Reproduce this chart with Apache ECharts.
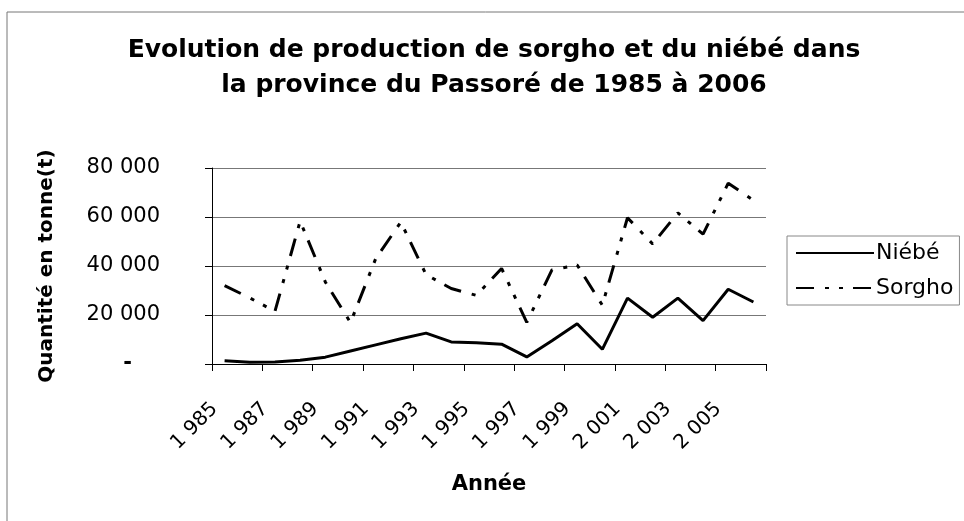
<!DOCTYPE html>
<html>
<head>
<meta charset="utf-8">
<title>Sorgho et niébé - Passoré</title>
<script src="https://cdn.jsdelivr.net/npm/echarts@6/dist/echarts.min.js"></script>
<style>
  html, body { margin: 0; padding: 0; background: #fff; }
  #chart { width: 964px; height: 521px; }
</style>
</head>
<body>
<div id="chart"></div>
<script>
// années (libellés avec séparateur de milliers comme dans Excel)
const years = ['1 985', '1 986', '1 987', '1 988', '1 989', '1 990', '1 991', '1 992', '1 993', '1 994', '1 995',
  '1 996', '1 997', '1 998', '1 999', '2 000', '2 001', '2 002', '2 003', '2 004', '2 005', '2 006']
// production en tonnes
const niebe = [1300, 700, 800, 1500, 2800, 5300, 7800, 10300, 12600, 9000, 8700,
  8100, 2900, 9500, 16400, 6000, 26900, 19100, 26900, 17700, 30500, 25300]
const sorgho = [32000, 27000, 21500, 58300, 33500, 16900, 43000, 57900, 36500, 30800, 28000,
  39000, 17000, 38400, 40400, 24000, 59700, 49000, 61700, 53000, 73800, 66800]
const yTicks = [0, 20000, 40000, 60000, 80000]

const FONT = 'DejaVu Sans'

function fmt (v) {
  if (v === 0) return '{z|-}'
  return String(v).replace(/\B(?=(\d{3})+(?!\d))/g, ' ')
}

let myChart = echarts.init(document.getElementById('chart'), null, { renderer: 'canvas' })
myChart.setOption({
  backgroundColor: '#fff',
  animation: false,
  textStyle: { fontFamily: FONT, color: '#000' },
  title: {
    text: 'Evolution de production de sorgho et du niébé dans\nla province du Passoré de 1985 à 2006',
    left: 489,
    top: 28,
    textAlign: 'center',
    textStyle: {
      fontFamily: FONT,
      fontSize: 25,
      fontWeight: 'bold',
      lineHeight: 35,
      color: '#000'
    }
  },
  graphic: [{
    type: 'polyline',
    shape: { points: [[7, 521], [7, 12], [964, 12]] },
    style: { stroke: '#777', lineWidth: 1, fill: null }
  }],
  legend: {
    orient: 'vertical',
    left: 787,
    top: 236,
    itemWidth: 78,
    itemHeight: 14,
    itemGap: 13,
    padding: [6, 6, 6, 8],
    borderColor: '#888',
    borderWidth: 1,
    itemStyle: { opacity: 0 },
    textStyle: { fontFamily: FONT, fontSize: 22, color: '#000', padding: [0, 0, 0, -3] },
    data: ['Niébé', 'Sorgho']
  },
  grid: {
    left: 212,
    right: 198,
    top: 168,
    bottom: 157
  },
  xAxis: {
    type: 'category',
    data: years,
    boundaryGap: true,
    name: 'Année',
    nameLocation: 'middle',
    nameGap: 110,
    nameTextStyle: { fontFamily: FONT, fontSize: 21, fontWeight: 'bold', color: '#000' },
    axisLine: { lineStyle: { color: '#000', width: 1 } },
    axisTick: { show: true, length: 7, lineStyle: { color: '#000' } },
    axisLabel: {
      interval: 1,
      rotate: 45,
      margin: 32,
      padding: [0, 14, 0, 0],
      fontFamily: FONT,
      fontSize: 20,
      color: '#000'
    },
    splitLine: { show: false }
  },
  yAxis: {
    type: 'value',
    min: yTicks[0],
    max: yTicks[yTicks.length - 1],
    interval: yTicks[1] - yTicks[0],
    name: 'Quantité en tonne(t)',
    nameLocation: 'middle',
    nameGap: 155,
    nameTextStyle: { fontFamily: FONT, fontSize: 20, fontWeight: 'bold', color: '#000' },
    axisLine: { show: true, lineStyle: { color: '#000', width: 1 } },
    axisTick: { show: true, length: 7, lineStyle: { color: '#000' } },
    axisLabel: {
      margin: 52,
      fontFamily: FONT,
      fontSize: 21,
      color: '#000',
      formatter: fmt,
      rich: {
        z: { fontFamily: FONT, fontSize: 21, fontWeight: 'bold', color: '#000', padding: [0, 28, 0, 0] }
      }
    },
    splitLine: { show: true, lineStyle: { color: '#777', width: 1 } }
  },
  series: [
    {
      name: 'Niébé',
      type: 'line',
      data: niebe,
      symbol: 'none',
      lineStyle: { color: '#000', width: 3, type: 'solid' },
      itemStyle: { color: '#000' }
    },
    {
      name: 'Sorgho',
      type: 'line',
      data: sorgho,
      symbol: 'none',
      // tiret long, point, point
      lineStyle: { color: '#000', width: 3, type: [18, 11, 4, 10, 4, 10] },
      itemStyle: { color: '#000' }
    }
  ]
})
</script>
</body>
</html>
